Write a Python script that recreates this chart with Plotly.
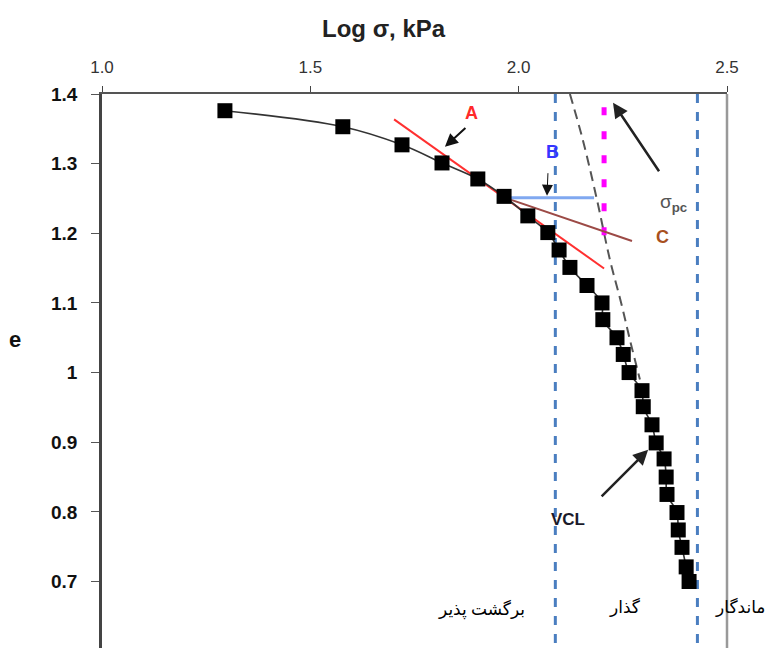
import plotly.graph_objects as go

# ---- data ----
log_sigma = [1.295, 1.578, 1.720, 1.816, 1.902, 1.965, 2.022, 2.070, 2.097, 2.123,
             2.164, 2.200, 2.202, 2.236, 2.251, 2.265, 2.296, 2.299, 2.320, 2.330,
             2.349, 2.354, 2.356, 2.380, 2.383, 2.392, 2.402, 2.409]
void_ratio = [1.376, 1.353, 1.327, 1.301, 1.278, 1.253, 1.225, 1.201, 1.176, 1.151,
              1.125, 1.100, 1.076, 1.050, 1.026, 1.000, 0.974, 0.951, 0.925, 0.899,
              0.876, 0.850, 0.825, 0.799, 0.774, 0.749, 0.721, 0.700]

line_a_x = [1.701, 2.205]
line_a_y = [1.3635, 1.1495]
line_b_x = [1.967, 2.181]
line_b_y = [1.251, 1.251]
line_c_x = [1.967, 2.272]
line_c_y = [1.251, 1.189]
sigma_pc_x = [2.205, 2.205]
sigma_pc_y = [1.381, 1.197]
vcl_x = [2.123, 2.154, 2.188, 2.219, 2.246, 2.267, 2.291]
vcl_y = [1.400, 1.334, 1.248, 1.162, 1.100, 1.047, 0.990]
zone_bounds = [2.088, 2.429]

x_ticks = [1.0, 1.5, 2.0, 2.5]
x_tick_text = ["1.0", "1.5", "2.0", "2.5"]
y_ticks = [1.4, 1.3, 1.2, 1.1, 1.0, 0.9, 0.8, 0.7]
y_tick_text = ["1.4", "1.3", "1.2", "1.1", "1", "0.9", "0.8", "0.7"]

FONT = "Liberation Sans, Arial, sans-serif"
FA_FONT = "Times New Roman, Liberation Serif, DejaVu Serif, DejaVu Sans, serif"

fig = go.Figure()

# zone boundaries
for xb in zone_bounds:
    fig.add_trace(go.Scatter(x=[xb, xb], y=[1.4, 0.55], mode="lines",
                             line=dict(color="#4a7ec0", width=3, dash="dash"),
                             hoverinfo="skip", showlegend=False))

# VCL dashed curve
fig.add_trace(go.Scatter(x=vcl_x, y=vcl_y, mode="lines",
                         line=dict(color="#555555", width=2, dash="10px,6px", shape="spline"),
                         showlegend=False))
# sigma_pc dotted
fig.add_trace(go.Scatter(x=sigma_pc_x, y=sigma_pc_y, mode="lines",
                         line=dict(color="#ff00ff", width=5, dash="8px,16px"),
                         showlegend=False))
# construction lines
fig.add_trace(go.Scatter(x=line_a_x, y=line_a_y, mode="lines",
                         line=dict(color="#ff3030", width=2), showlegend=False))
fig.add_trace(go.Scatter(x=line_c_x, y=line_c_y, mode="lines",
                         line=dict(color="#9c4a46", width=2), showlegend=False))
fig.add_trace(go.Scatter(x=line_b_x, y=line_b_y, mode="lines",
                         line=dict(color="#80a8f0", width=3), showlegend=False))

# data curve
fig.add_trace(go.Scatter(x=log_sigma, y=void_ratio, mode="lines+markers",
                         line=dict(color="#333333", width=1.6, shape="spline"),
                         marker=dict(symbol="square", size=15, color="black"),
                         showlegend=False))

annotations = [
    dict(text="<b>Log σ, kPa</b>", xref="paper", yref="paper", x=0.4512, y=1.119,
         xanchor="center", yanchor="middle",
         showarrow=False, font=dict(size=24, color="#222", family=FONT)),
    dict(text="<b>e</b>", xref="paper", yref="y", x=-0.139, y=1.047,
         xanchor="center", yanchor="middle",
         showarrow=False, font=dict(size=22, color="#111", family=FONT)),
    dict(text="<b>A</b>", x=1.886, y=1.373, showarrow=False,
         font=dict(size=18, color="#ff2a2a", family=FONT)),
    dict(text="<b>B</b>", x=2.080, y=1.317, showarrow=False,
         font=dict(size=18, color="#3535ff", family=FONT)),
    dict(text="<b>C</b>", x=2.346, y=1.195, showarrow=False,
         font=dict(size=18, color="#a8501e", family=FONT)),
    dict(text="σ<sub><b>pc</b></sub>", x=2.371, y=1.2436, showarrow=False,
         font=dict(size=19, color="#555", family=FONT)),
    dict(text="<b>VCL</b>", x=2.1186, y=0.7886, showarrow=False,
         font=dict(size=17, color="#1a1a2a", family=FONT)),
    # arrows
    dict(text="", x=1.823, y=1.3243, ax=22, ay=-20, showarrow=True,
         arrowhead=2, arrowsize=1.3, arrowwidth=2, arrowcolor="#111"),
    dict(text="", x=2.068, y=1.254, ax=1, ay=-24, showarrow=True,
         arrowhead=2, arrowsize=2.2, arrowwidth=1, arrowcolor="#111"),
    dict(text="", x=2.2265, y=1.3875, ax=47, ay=70, showarrow=True,
         arrowhead=2, arrowsize=1.2, arrowwidth=2.5, arrowcolor="#222"),
    dict(text="", x=2.3107, y=0.8891, ax=-48, ay=48, showarrow=True,
         arrowhead=2, arrowsize=1.2, arrowwidth=2.5, arrowcolor="#222"),
    # zone labels
    dict(text="برگشت پذیر", x=1.910, y=0.660, showarrow=False,
         font=dict(size=17, color="#000", family=FA_FONT)),
    dict(text="گذار", x=2.255, y=0.664, showarrow=False,
         font=dict(size=17, color="#000", family=FA_FONT)),
    dict(text="ماندگار", x=2.466, y=0.664, xanchor="left", showarrow=False,
         font=dict(size=17, color="#000", family=FA_FONT)),
]

fig.update_layout(
    width=766, height=648,
    margin=dict(l=102, r=39, t=94, b=0),
    paper_bgcolor="white", plot_bgcolor="white",
    annotations=annotations,
    shapes=[dict(type="line", xref="paper", yref="paper", x0=1, x1=1, y0=0, y1=1,
                 line=dict(color="#999999", width=2.5))],
    xaxis=dict(side="top", range=[1.0, 2.5], tickvals=x_ticks, ticktext=x_tick_text,
               showgrid=False, zeroline=False, showline=True, linecolor="#555",
               linewidth=2, ticks="outside", ticklen=6, tickcolor="#444",
               ticklabelstandoff=6,
               tickfont=dict(size=17, color="#333", family=FONT)),
    yaxis=dict(range=[0.6045, 1.4], tickvals=y_ticks, ticktext=y_tick_text,
               showgrid=False, zeroline=False, showline=True, linecolor="#444",
               linewidth=2.5, ticks="outside", ticklen=8, tickcolor="#555",
               ticklabelstandoff=10,
               tickfont=dict(size=19, color="#111", family="Liberation Sans", weight="bold")),
)

fig.write_html("out.html")
